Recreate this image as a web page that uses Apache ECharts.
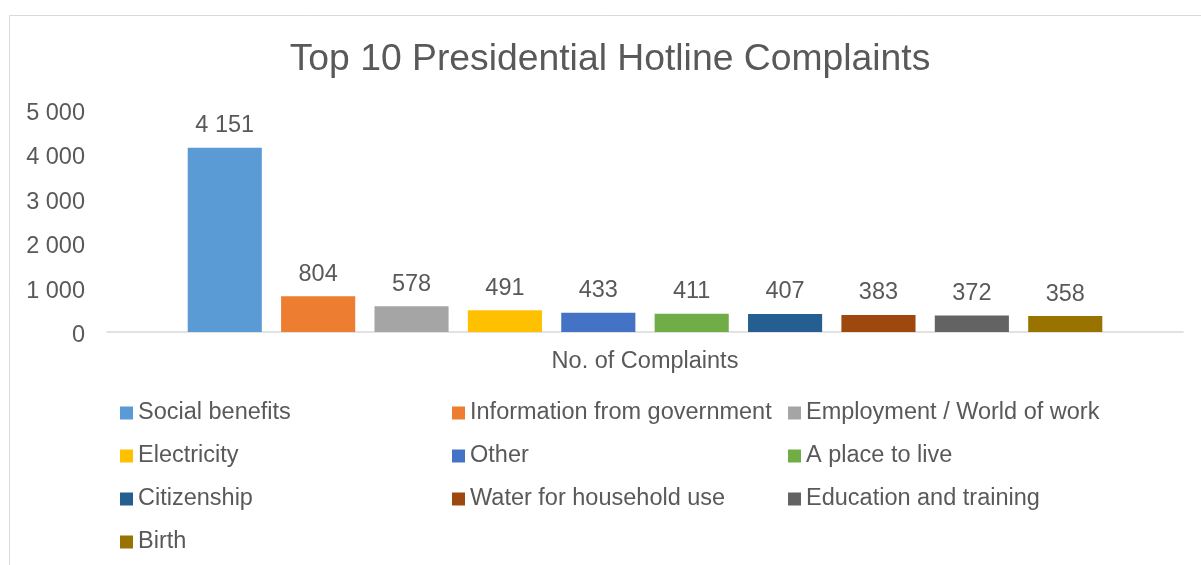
<!DOCTYPE html>
<html>
<head>
<meta charset="utf-8">
<script src="https://cdn.jsdelivr.net/npm/echarts@6/dist/echarts.min.js"></script>
<style>
html,body{margin:0;padding:0;background:#fff;}
#chart{width:1201px;height:565px;}
</style>
</head>
<body>
<div id="chart"></div>
<script>
const categories = ['No. of Complaints'];
const seriesNames = ['Social benefits','Information from government','Employment / World of work','Electricity','Other','A place to live','Citizenship','Water for household use','Education and training','Birth'];
const seriesValues = [4151, 804, 578, 491, 433, 411, 407, 383, 372, 358];
const seriesColors = ['#5B9BD5','#ED7D31','#A5A5A5','#FFC000','#4472C4','#70AD47','#255E91','#9E480E','#636363','#997300'];
const yTicks = [0, 1000, 2000, 3000, 4000, 5000];

const FONT = '"Liberation Sans", Arial, sans-serif';
const TXT = '#595959';
const fmt = v => String(v).replace(/\B(?=(\d{3})+(?!\d))/g, ' ');

const legendCols = [
  [0, 3, 6, 9],
  [1, 4, 7],
  [2, 5, 8]
];
const legendLefts = [120, 452, 788];

const chart = echarts.init(document.getElementById('chart'));
chart.setOption({
  animation: false,
  backgroundColor: '#fff',
  graphic: [{
    type: 'rect', silent: true,
    shape: { x: 9.5, y: 15.5, width: 1300, height: 700 },
    style: { fill: 'none', stroke: '#d9d9d9', lineWidth: 1 }
  }],
  title: {
    text: 'Top 10 Presidential Hotline Complaints',
    left: 605, textAlign: 'center', top: 36,
    textStyle: { fontFamily: FONT, fontSize: 37.3, fontWeight: 'normal', color: TXT }
  },
  legend: legendCols.map((idx, i) => ({
    orient: 'vertical',
    left: legendLefts[i], top: 401, padding: 0,
    itemWidth: 13, itemHeight: 13, itemGap: 19, itemTextGap: 5,
    icon: 'rect',
    data: idx.map(k => seriesNames[k]),
    textStyle: { fontFamily: FONT, fontSize: 23.5, color: TXT, lineHeight: 24 },
    selectedMode: false
  })),
  grid: { left: 107, right: 18, top: 110, bottom: 233, containLabel: false },
  xAxis: {
    type: 'category', data: categories,
    axisTick: { show: false },
    axisLine: { lineStyle: { color: '#d9d9d9', width: 1.5 } },
    axisLabel: { fontFamily: FONT, fontSize: 23.5, color: TXT, margin: 18 }
  },
  yAxis: {
    type: 'value', min: yTicks[0], max: yTicks[yTicks.length - 1], interval: 1000,
    axisLine: { show: false }, axisTick: { show: false },
    splitLine: { show: false },
    axisLabel: {
      margin: 22,
      formatter: v => '{a|' + fmt(v) + '}',
      rich: { a: { fontFamily: FONT, fontSize: 23.5, color: TXT, padding: [7, 0, 0, 0] } }
    }
  },
  series: seriesNames.map((name, i) => ({
    name, type: 'bar',
    data: [seriesValues[i]],
    itemStyle: { color: seriesColors[i] },
    barGap: '26%', barCategoryGap: '15%',
    label: {
      show: true, position: 'top', distance: 10,
      fontFamily: FONT, fontSize: 23.5, color: TXT,
      formatter: p => fmt(p.value)
    }
  }))
});
</script>
</body>
</html>
